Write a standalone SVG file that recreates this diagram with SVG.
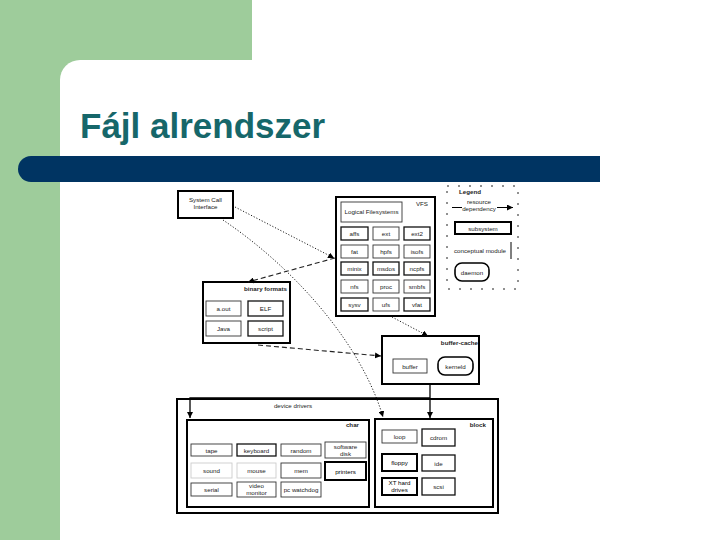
<svg xmlns="http://www.w3.org/2000/svg" width="720" height="540" viewBox="0 0 720 540">
<defs>
<style>
text{font-family:"Liberation Sans",Arial,sans-serif;font-size:6.2px;fill:#222;text-anchor:middle}
.t{font-weight:bold;text-anchor:end}
.thin{fill:#fff;stroke:#333;stroke-width:0.9}
.mid{fill:#fff;stroke:#111;stroke-width:1.3}
.bold{fill:#fff;stroke:#000;stroke-width:2}
.dmn{fill:#fff;stroke:#000;stroke-width:1.6}
.dot{fill:none;stroke:#222;stroke-width:1;stroke-dasharray:1.2 1.8}
.dash{fill:none;stroke:#222;stroke-width:1.1;stroke-dasharray:5 3}
.sol{fill:none;stroke:#000;stroke-width:1.3}
</style>
<marker id="ah" viewBox="0 0 10 10" refX="10" refY="5" markerWidth="6" markerHeight="6" markerUnits="userSpaceOnUse" orient="auto"><path d="M0,0 L10,5 L0,10 z" fill="#000"/></marker>
</defs>
<rect x="0" y="0" width="720" height="540" fill="#fff"/>
<rect x="0" y="0" width="252" height="80" fill="#9ecc9b"/>
<rect x="0" y="0" width="60" height="540" fill="#9ecc9b"/>
<rect x="60" y="60" width="700" height="520" rx="20" ry="20" fill="#fff"/>
<path d="M31,156 H600 V182 H31 A13,13 0 0 1 31,156 z" fill="#003462"/>
<text x="80" y="138" style="font-size:35px;font-weight:bold;fill:#16676a;text-anchor:start">Fájl alrendszer</text>

<g id="syscall">
<rect class="bold" x="178" y="191" width="55" height="27"/>
<text x="205.5" y="202">System Call</text>
<text x="205.5" y="209">Interface</text>
</g>

<g id="vfs">
<rect class="bold" x="336" y="197" width="99" height="119"/>
<text class="t" x="428" y="206" style="font-weight:normal">VFS</text>
<rect class="thin" x="341" y="202" width="61" height="20"/>
<text x="371.5" y="214">Logical Filesystems</text>
<g id="vfs-cells">
<rect class="mid" x="341" y="227" width="27" height="13"/><text x="354.5" y="235.5">affs</text>
<rect class="thin" x="373" y="227" width="26" height="13"/><text x="386" y="235.5">ext</text>
<rect class="mid" x="404" y="227" width="26" height="13"/><text x="417" y="235.5">ext2</text>
<rect class="thin" x="341" y="245" width="27" height="13"/><text x="354.5" y="253.5">fat</text>
<rect class="thin" x="373" y="245" width="26" height="13"/><text x="386" y="253.5">hpfs</text>
<rect class="thin" x="404" y="245" width="26" height="13"/><text x="417" y="253.5">isofs</text>
<rect class="mid" x="341" y="262" width="27" height="13"/><text x="354.5" y="270.5">minix</text>
<rect class="mid" x="373" y="262" width="26" height="13"/><text x="386" y="270.5">msdos</text>
<rect class="mid" x="404" y="262" width="26" height="13"/><text x="417" y="270.5">ncpfs</text>
<rect class="thin" x="341" y="280" width="27" height="13"/><text x="354.5" y="288.5">nfs</text>
<rect class="thin" x="373" y="280" width="26" height="13"/><text x="386" y="288.5">proc</text>
<rect class="thin" x="404" y="280" width="26" height="13"/><text x="417" y="288.5">smbfs</text>
<rect class="mid" x="341" y="298" width="27" height="13"/><text x="354.5" y="306.5">sysv</text>
<rect class="thin" x="373" y="298" width="26" height="13"/><text x="386" y="306.5">ufs</text>
<rect class="mid" x="404" y="298" width="26" height="13"/><text x="417" y="306.5">vfat</text>
</g>
</g>

<g id="legend">
<rect x="447" y="186" width="71" height="103" fill="none" stroke="#222" stroke-width="1" stroke-dasharray="2 9"/>
<text x="470" y="194" style="font-weight:bold">Legend</text>
<text x="479" y="204">resource</text>
<text x="479" y="211">dependency</text>
<path class="sol" d="M452,207.5 H462" style="stroke-width:1"/>
<path class="sol" d="M497,207.5 H513" style="stroke-width:1" marker-end="url(#ah)"/>
<rect class="bold" x="455" y="222" width="56" height="12"/>
<text x="483" y="230.5">subsystem</text>
<path class="sol" d="M511,242 V259" style="stroke-width:1"/>
<text x="480" y="253">conceptual module</text>
<rect class="dmn" x="455" y="263" width="34" height="18" rx="7" ry="7"/>
<text x="472" y="274.5">daemon</text>
</g>

<g id="binfmt">
<rect class="bold" x="203" y="282" width="87" height="61"/>
<text class="t" x="287" y="291">binary formats</text>
<rect class="thin" x="206" y="301" width="35" height="15"/><text x="223.5" y="311">a.out</text>
<rect class="mid" x="248" y="301" width="35" height="15"/><text x="265.5" y="311">ELF</text>
<rect class="thin" x="206" y="321" width="35" height="15"/><text x="223.5" y="331">Java</text>
<rect class="mid" x="248" y="321" width="35" height="15"/><text x="265.5" y="331">script</text>
</g>

<g id="buffer-cache">
<rect class="bold" x="382" y="336" width="97" height="48"/>
<text class="t" x="478" y="344.5">buffer-cache</text>
<rect class="thin" x="393" y="359" width="34" height="14"/><text x="410" y="368.5">buffer</text>
<rect class="dmn" x="438" y="357" width="35" height="18" rx="7" ry="7"/><text x="455.5" y="368.5">kerneld</text>
</g>

<g id="device-drivers">
<rect class="bold" x="177" y="399" width="321" height="114"/>
<text x="293" y="408">device drivers</text>
</g>

<g id="char">
<rect class="bold" x="187" y="420" width="182" height="87"/>
<text class="t" x="359" y="427">char</text>
<rect class="thin" x="191" y="444" width="41" height="12"/><text x="211.5" y="452.5">tape</text>
<rect class="mid" x="237" y="444" width="39" height="12"/><text x="256.5" y="452.5">keyboard</text>
<rect class="thin" x="281" y="444" width="40" height="12"/><text x="301" y="452.5">random</text>
<rect class="thin" x="325" y="442" width="41" height="16"/><text x="345.5" y="449">software</text><text x="345.5" y="455.5">disk</text>
<rect class="thin" x="191" y="463" width="41" height="15" style="stroke:#ccc"/><text x="211.5" y="473">sound</text>
<rect class="thin" x="237" y="463" width="39" height="15" style="stroke:#ccc"/><text x="256.5" y="473">mouse</text>
<rect class="thin" x="281" y="463" width="40" height="15"/><text x="301" y="473">mem</text>
<rect class="bold" x="325" y="462" width="41" height="18"/><text x="345.5" y="473.5" style="fill:#000">printers</text>
<rect class="thin" x="191" y="483" width="41" height="13"/><text x="211.5" y="491.5">serial</text>
<rect class="thin" x="237" y="482" width="39" height="15"/><text x="256.5" y="488">video</text><text x="256.5" y="495">monitor</text>
<rect class="thin" x="281" y="482" width="40" height="15"/><text x="301" y="492">pc watchdog</text>
</g>

<g id="block">
<rect class="bold" x="375" y="419" width="118" height="88"/>
<text class="t" x="486" y="427">block</text>
<rect class="thin" x="382" y="430" width="35" height="13"/><text x="399.5" y="439">loop</text>
<rect class="mid" x="422" y="429" width="33" height="17"/><text x="438.5" y="440">cdrom</text>
<rect class="bold" x="382" y="454" width="35" height="17"/><text x="399.5" y="465" style="fill:#000">floppy</text>
<rect class="mid" x="422" y="455" width="33" height="16"/><text x="438.5" y="465.5">ide</text>
<rect class="bold" x="382" y="478" width="35" height="17"/><text x="399.5" y="485" style="fill:#000">XT hard</text><text x="399.5" y="492" style="fill:#000">drives</text>
<rect class="mid" x="422" y="478" width="33" height="17"/><text x="438.5" y="489">scsi</text>
</g>

<g id="connectors">
<path class="dot" d="M235,207 L334,258" marker-end="url(#ah)"/>
<path class="dot" d="M223,220 C290,265 360,340 383,417" marker-end="url(#ah)"/>
<path class="dash" d="M335,258 L248,282" marker-end="url(#ah)"/>
<path class="dash" d="M258,345 L381,356" marker-end="url(#ah)"/>
<path class="dot" d="M392,317 L428,336" marker-end="url(#ah)"/>
<path class="sol" d="M430,385 L430,418" marker-end="url(#ah)"/>
<path class="sol" d="M430,398 H190 V418" marker-end="url(#ah)"/>
</g>
</svg>
